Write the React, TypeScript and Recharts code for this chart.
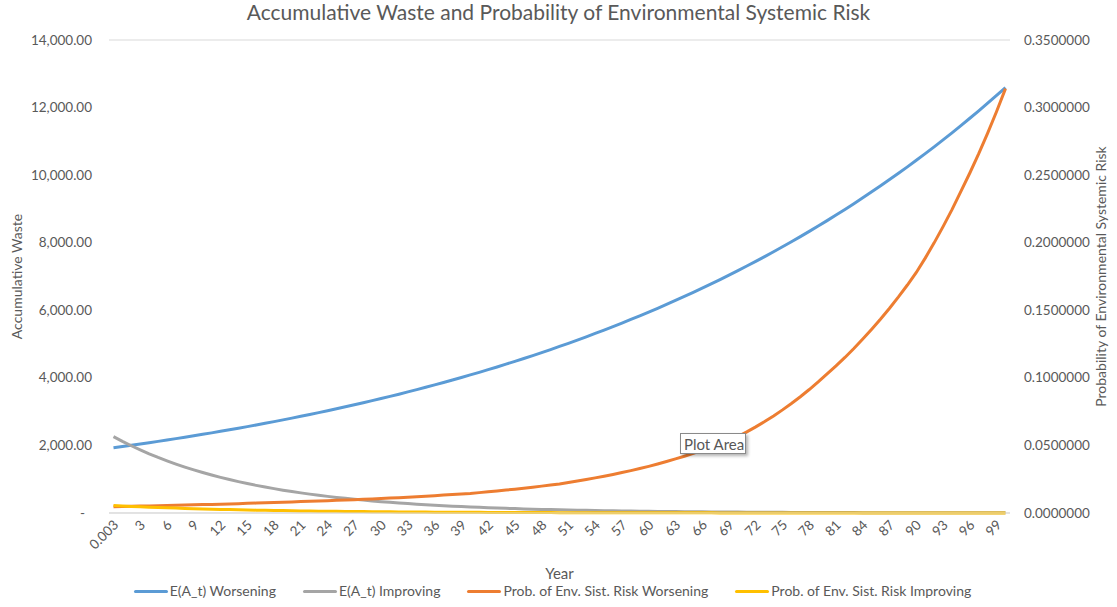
import { LineChart, Line, XAxis, YAxis, CartesianGrid, Legend } from "recharts";

const years = [
  "0.003", "1", "2", "3", "4", "5", "6", "7", "8", "9", "10", "11", "12", "13", "14", "15", "16", "17", "18", "19",
  "20", "21", "22", "23", "24", "25", "26", "27", "28", "29", "30", "31", "32", "33", "34", "35", "36", "37", "38", "39",
  "40", "41", "42", "43", "44", "45", "46", "47", "48", "49", "50", "51", "52", "53", "54", "55", "56", "57", "58", "59",
  "60", "61", "62", "63", "64", "65", "66", "67", "68", "69", "70", "71", "72", "73", "74", "75", "76", "77", "78", "79",
  "80", "81", "82", "83", "84", "85", "86", "87", "88", "89", "90", "91", "92", "93", "94", "95", "96", "97", "98", "99",
  "100",
];

// E(A_t) Worsening
const wasteWorsening = [
  1930, 1967, 2004, 2042, 2080, 2120, 2160, 2201, 2242, 2285, 2328, 2372, 2417, 2463, 2509, 2557, 2605, 2654, 2705, 2756,
  2808, 2861, 2915, 2971, 3027, 3084, 3143, 3202, 3263, 3325, 3388, 3452, 3517, 3584, 3652, 3721, 3791, 3863, 3936, 4011,
  4087, 4164, 4243, 4323, 4405, 4488, 4573, 4660, 4748, 4838, 4930, 5023, 5118, 5215, 5314, 5415, 5517, 5622, 5728, 5837,
  5947, 6060, 6175, 6291, 6410, 6532, 6655, 6781, 6910, 7041, 7174, 7310, 7448, 7589, 7733, 7879, 8028, 8180, 8335, 8493,
  8654, 8818, 8985, 9155, 9328, 9505, 9685, 9868, 10055, 10245, 10439, 10637, 10838, 11044, 11253, 11466, 11683, 11904, 12129, 12359,
  12593,
];

// E(A_t) Improving
const wasteImproving = [
  2260, 2121, 1990, 1868, 1753, 1645, 1544, 1449, 1360, 1276, 1198, 1124, 1055, 990, 929, 872, 818, 768, 721, 676,
  635, 596, 559, 525, 492, 462, 434, 407, 382, 358, 336, 316, 296, 278, 261, 245, 230, 216, 202, 190,
  178, 167, 157, 147, 138, 130, 122, 114, 107, 101, 94, 88.5, 83.1, 78.0, 73.2, 68.7, 64.4, 60.5, 56.8, 53.3,
  50.0, 46.9, 44.0, 41.3, 38.8, 36.4, 34.2, 32.1, 30.1, 28.2, 26.5, 24.9, 23.3, 21.9, 20.6, 19.3, 18.1, 17.0, 16.0, 15.0,
  14.0, 13.2, 12.4, 11.6, 10.9, 10.2, 9.6, 9.0, 8.5, 7.9, 7.4, 7.0, 6.6, 6.2, 5.8, 5.4, 5.1, 4.8, 4.5, 4.2,
  4.0,
];

// Prob. of Env. Sist. Risk Worsening
const riskWorsening = [
  0.0047, 0.00483, 0.00497, 0.00511, 0.00525, 0.0054, 0.00555, 0.0057, 0.00586, 0.00603, 0.0062, 0.00638, 0.00656, 0.00674, 0.00693, 0.00713, 0.00733, 0.00754, 0.00775, 0.00797,
  0.0082, 0.00842, 0.00865, 0.00888, 0.00912, 0.00937, 0.00962, 0.00988, 0.01015, 0.01042, 0.0107, 0.01103, 0.01137, 0.01172, 0.01209, 0.01246, 0.01285, 0.01324, 0.01365, 0.01407,
  0.0145, 0.01508, 0.01569, 0.01632, 0.01698, 0.01766, 0.01837, 0.01911, 0.01988, 0.02068, 0.0215, 0.02254, 0.02363, 0.02478, 0.02598, 0.02723, 0.02855, 0.02993, 0.03138, 0.0329,
  0.0345, 0.03625, 0.03808, 0.04001, 0.04203, 0.04416, 0.04639, 0.04874, 0.05121, 0.0538, 0.0565, 0.06, 0.06371, 0.06766, 0.07185, 0.0763, 0.08102, 0.08604, 0.09137, 0.09703,
  0.103, 0.1089, 0.1151, 0.1217, 0.1287, 0.136, 0.1435, 0.1515, 0.1599, 0.1687, 0.178, 0.1886, 0.1999, 0.2119, 0.2245, 0.238, 0.2516, 0.2659, 0.2811, 0.2971,
  0.314,
];

// Prob. of Env. Sist. Risk Improving
const riskImproving = [
  0.0055, 0.00518, 0.00488, 0.00459, 0.00433, 0.00407, 0.00384, 0.00361, 0.0034, 0.0032, 0.00302, 0.00284, 0.00268, 0.00252, 0.00237, 0.00224, 0.00211, 0.00198, 0.00187, 0.00176,
  0.00166, 0.00156, 0.00147, 0.00138, 0.0013, 0.00123, 0.00115, 0.00109, 0.00102, 0.00096, 0.00091, 0.00086, 0.00081, 0.00076, 0.00071, 0.00067, 0.00063, 0.0006, 0.00056, 0.00053,
  0.0005, 0.00047, 0.00044, 0.00042, 0.00039, 0.00037, 0.00035, 0.00033, 0.00031, 0.00029, 0.00027, 0.00026, 0.00024, 0.00023, 0.00022, 0.0002, 0.00019, 0.00018, 0.00017, 0.00016,
  0.00015, 0.00014, 0.00013, 0.00012, 0.00012, 0.00011, 0.0001, 0.0001, 0.00009, 0.00009, 0.00008, 0.00008, 0.00007, 0.00007, 0.00006, 0.00006, 0.00006, 0.00005, 0.00005, 0.00005,
  0.00004, 0.00004, 0.00004, 0.00004, 0.00004, 0.00004, 0.00003, 0.00003, 0.00003, 0.00003, 0.00003, 0.00003, 0.00003, 0.00002, 0.00002, 0.00002, 0.00002, 0.00002, 0.00002, 0.00001,
  0.00001,
];

const leftTicks = [0, 2000, 4000, 6000, 8000, 10000, 12000, 14000];
const rightTicks = [0, 0.05, 0.1, 0.15, 0.2, 0.25, 0.3, 0.35];

const seriesNames = [
  "E(A_t) Worsening",
  "E(A_t) Improving",
  "Prob. of Env. Sist. Risk Worsening",
  "Prob. of Env. Sist. Risk Improving",
];

const data = years.map((year, i) => ({
  year,
  worsening: wasteWorsening[i],
  improving: wasteImproving[i],
  riskWorse: riskWorsening[i],
  riskBetter: riskImproving[i],
}));

const FONT = "Lato, 'Open Sans', sans-serif";
const TEXT = "#595959";

const LeftTick = ({ x, y, payload }: any) => (
  <text x={payload.value === 0 ? x - 7 : x} y={y} dy={4.5} textAnchor="end" fill={TEXT} fontSize={13.5} fontFamily={FONT}>
    {payload.value === 0
      ? "-"
      : payload.value.toLocaleString("en-US", { minimumFractionDigits: 2, maximumFractionDigits: 2 })}
  </text>
);

const RightTick = ({ x, y, payload }: any) => (
  <text x={x} y={y} dy={4.5} textAnchor="start" fill={TEXT} fontSize={13.5} fontFamily={FONT}>
    {payload.value.toFixed(7)}
  </text>
);

const YearTick = ({ x, y, payload }: any) => (
  <text
    x={x + 3}
    y={y}
    dy={4}
    textAnchor="end"
    fill={TEXT}
    fontSize={13.5}
    fontFamily={FONT}
    transform={`rotate(-45, ${x + 3}, ${y})`}
  >
    {payload.value}
  </text>
);

const renderLegend = ({ payload }: any) => {
  const items = [...payload].sort((a: any, b: any) => seriesNames.indexOf(a.value) - seriesNames.indexOf(b.value));
  return (
    <div
      style={{
        display: "flex",
        justifyContent: "center",
        gap: 27,
        height: 16,
        lineHeight: "16px",
        fontFamily: FONT,
        fontSize: 14,
        color: TEXT,
        paddingRight: 12,
      }}
    >
      {items.map((entry: any) => (
        <div key={entry.value} style={{ display: "flex", alignItems: "center" }}>
          <span style={{ display: "inline-block", width: 34, height: 3, background: entry.color, marginRight: 2, borderRadius: 2 }} />
          <span>{entry.value}</span>
        </div>
      ))}
    </div>
  );
};

export default function App() {
  return (
    <div style={{ position: "absolute", left: 0, top: 0, width: 1117, height: 607, background: "#fff", fontFamily: FONT }}>
      <div
        style={{
          position: "absolute",
          top: 0,
          left: 0,
          width: 1117,
          textAlign: "center",
          fontSize: 21,
          lineHeight: "24px",
          color: TEXT,
        }}
      >
        Accumulative Waste and Probability of Environmental Systemic Risk
      </div>
      <LineChart width={1117} height={607} data={data} margin={{ top: 40, right: 0, bottom: 8, left: 0 }}>
        <CartesianGrid vertical={false} stroke="#d9d9d9" strokeWidth={1} />
        <XAxis
          dataKey="year"
          interval={2}
          height={70}
          padding={{ left: 4.5, right: 4.5 }}
          tick={<YearTick />}
          tickLine={false}
          tickSize={0}
          tickMargin={10}
          axisLine={{ stroke: "#d9d9d9" }}
          label={{ value: "Year", position: "insideBottom", offset: 4, fill: TEXT, fontSize: 15, fontFamily: FONT }}
        />
        <YAxis
          yAxisId="left"
          domain={[0, 14000]}
          ticks={leftTicks}
          width={109}
          tick={<LeftTick />}
          tickLine={false}
          tickSize={0}
          tickMargin={17}
          axisLine={false}
          label={{
            value: "Accumulative Waste",
            angle: -90,
            position: "center",
            dx: -37,
            fill: TEXT,
            fontSize: 14,
            fontFamily: FONT,
          }}
        />
        <YAxis
          yAxisId="right"
          orientation="right"
          domain={[0, 0.35]}
          ticks={rightTicks}
          width={107}
          tick={<RightTick />}
          tickLine={false}
          tickSize={0}
          tickMargin={14}
          axisLine={false}
          label={{
            value: "Probability of Environmental Systemic Risk",
            angle: -90,
            position: "center",
            dx: 37.5,
            fill: TEXT,
            fontSize: 14,
            fontFamily: FONT,
          }}
        />
        <Legend verticalAlign="bottom" content={renderLegend} />
        <Line yAxisId="left" type="linear" dataKey="worsening" name={seriesNames[0]} stroke="#5b9bd5" strokeWidth={3} dot={false} isAnimationActive={false} />
        <Line yAxisId="left" type="linear" dataKey="improving" name={seriesNames[1]} stroke="#a5a5a5" strokeWidth={3} dot={false} isAnimationActive={false} />
        <Line yAxisId="right" type="linear" dataKey="riskWorse" name={seriesNames[2]} stroke="#ed7d31" strokeWidth={3} dot={false} isAnimationActive={false} />
        <Line yAxisId="right" type="linear" dataKey="riskBetter" name={seriesNames[3]} stroke="#ffc000" strokeWidth={3} dot={false} isAnimationActive={false} />
      </LineChart>
      <div
        style={{
          position: "absolute",
          left: 680,
          top: 433,
          width: 66,
          height: 21,
          border: "1px solid #8a8a8a",
          boxShadow: "2px 2px 3px rgba(0,0,0,0.3)",
          background: "#fff",
          fontSize: 15,
          lineHeight: "21px",
          color: "#575757",
          paddingLeft: 3,
          boxSizing: "border-box",
        }}
      >
        Plot Area
      </div>
    </div>
  );
}
